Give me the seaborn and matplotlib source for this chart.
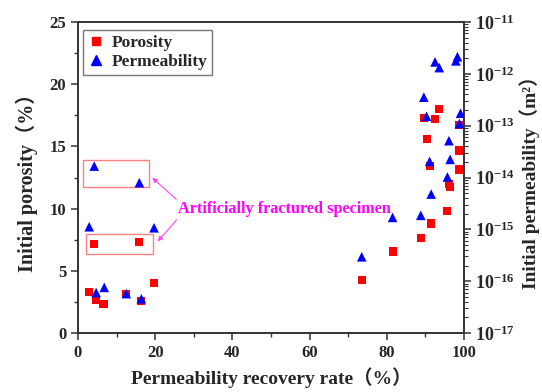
import numpy as np
import pandas as pd
import matplotlib
matplotlib.use("Agg")
import matplotlib.pyplot as plt
import matplotlib.ticker as mticker
from matplotlib.lines import Line2D
from matplotlib.patches import Rectangle
import seaborn as sns

# ---- data ----
por_x = [2.9, 4.6, 6.6, 4.2, 15.9, 12.5, 16.4, 19.6, 73.5, 81.5, 88.8, 91.5, 95.7,
         96.1, 96.4, 98.6, 98.8, 98.8, 91.1, 90.3, 89.6, 92.5, 93.6]
por_y = [3.27, 2.68, 2.36, 7.14, 7.30, 3.17, 2.58, 4.02, 4.29, 6.55, 7.62, 8.80, 9.84,
         11.96, 11.72, 13.14, 14.67, 16.70, 13.41, 15.56, 17.25, 17.19, 18.00]

perm_x = [2.9, 4.2, 4.7, 6.8, 12.5, 15.9, 16.4, 19.7, 73.5, 81.5, 88.8, 89.6, 90.3,
          91.1, 91.5, 92.5, 93.6, 95.7, 96.1, 96.4, 97.9, 98.3, 98.8, 99.1]
perm_log = [-14.95, -13.78, -16.22, -16.12, -16.24, -14.10, -16.34, -14.97, -15.53,
            -14.77, -14.73, -12.45, -12.82, -13.69, -14.32, -11.77, -11.88, -13.99,
            -13.29, -13.65, -11.75, -11.67, -12.96, -12.76]
perm_y = [10.0 ** v for v in perm_log]

df_por = pd.DataFrame({"x": por_x, "y": por_y})
df_perm = pd.DataFrame({"x": perm_x, "y": perm_y})

sns.set_style("ticks")
plt.rcParams["font.family"] = ["Liberation Serif", "Noto Sans CJK SC"]
plt.rcParams["font.weight"] = "bold"
plt.rcParams["mathtext.fontset"] = "custom"
plt.rcParams["mathtext.rm"] = "Liberation Serif:bold"
plt.rcParams["mathtext.bf"] = "Liberation Serif:bold"
plt.rcParams["mathtext.it"] = "Liberation Serif:bold:italic"
plt.rcParams["axes.linewidth"] = 1.2

fig = plt.figure(figsize=(5.42, 3.92), dpi=100)
ax = fig.add_axes([78 / 542, 1 - 333 / 392, (464 - 78) / 542, (333 - 22) / 392])
ax2 = ax.twinx()

sns.scatterplot(data=df_por, x="x", y="y", ax=ax, marker="s", color="#FF0000",
                s=34, edgecolor="none", linewidth=0, zorder=3)
sns.scatterplot(data=df_perm, x="x", y="y", ax=ax2, marker="^", color="#0000FF",
                s=48, edgecolor="none", linewidth=0, zorder=4)

ax.set_xlim(0, 100)
ax.set_ylim(0, 25)
ax2.set_yscale("log")
ax2.set_ylim(1e-17, 1e-11)

ax.set_xticks([0, 20, 40, 60, 80, 100])
ax.xaxis.set_minor_locator(mticker.MultipleLocator(10))
ax.set_yticks([0, 5, 10, 15, 20, 25])
ax.yaxis.set_minor_locator(mticker.MultipleLocator(2.5))
ax2.yaxis.set_major_locator(mticker.LogLocator(base=10, numticks=10))
ax2.yaxis.set_minor_locator(mticker.LogLocator(base=10, subs=np.arange(2, 10), numticks=20))
ax2.yaxis.set_minor_formatter(mticker.NullFormatter())
ax2.yaxis.set_major_formatter(mticker.FuncFormatter(
    lambda v, p: r"$\mathbf{10^{%d}}$" % int(round(np.log10(v)))))

ax.tick_params(axis="both", which="major", direction="out", length=5, width=1.1,
               labelsize=12, color="#333333")
ax.tick_params(axis="both", which="minor", direction="out", length=3, width=1.0,
               color="#333333")
ax2.tick_params(axis="y", which="major", direction="out", length=5, width=1.1,
                labelsize=13, color="#333333", pad=3)
ax2.tick_params(axis="y", which="minor", direction="out", length=3, width=0.8,
                color="#333333")
for a in (ax, ax2):
    for sp in a.spines.values():
        sp.set_color("#333333")
        sp.set_linewidth(1.2)
for lab in ax.get_xticklabels() + ax.get_yticklabels():
    lab.set_fontweight("bold")

ax.set_xlabel("Permeability recovery rate（%）", fontsize=14, fontweight="bold", labelpad=5)
ax.set_ylabel("Initial porosity（%）", fontsize=14.5, fontweight="bold", labelpad=8)
ax2.set_ylabel("Initial permeability（m²）", fontsize=14, fontweight="bold", labelpad=3)

# annotation boxes
box_col = "#FF8080"
ax.add_patch(Rectangle((1.25, 11.72), 17.25, 2.15, fill=False, edgecolor=box_col,
                       linewidth=1.0, zorder=2))
ax.add_patch(Rectangle((2.1, 6.38), 17.45, 1.61, fill=False, edgecolor=box_col,
                       linewidth=1.0, zorder=2))
ax.text(26.0, 9.93, "Artificially fractured specimen", color="#FF00FF",
        fontsize=11.7, fontweight="bold", va="center", ha="left", zorder=5)
arrow_kw = dict(arrowstyle="-|>", color="#FF44FF", lw=0.8, mutation_scale=7)
ax.annotate("", xy=(18.7, 12.63), xytext=(26.0, 10.6), arrowprops=arrow_kw)
ax.annotate("", xy=(20.2, 7.2), xytext=(26.0, 9.25), arrowprops=arrow_kw)

handles = [Line2D([], [], marker="s", color="#FF0000", linestyle="none", markersize=5.5),
           Line2D([], [], marker="^", color="#0000FF", linestyle="none", markersize=7)]
leg = ax.legend(handles, ["Porosity", "Permeability"], loc="upper left",
                bbox_to_anchor=(0.0, 0.99), frameon=True, fancybox=False,
                edgecolor="#555555", prop={"size": 12.5, "weight": "bold"},
                handletextpad=0.4, borderpad=0.25, labelspacing=0.2, handlelength=1.0,
                borderaxespad=0.3)
leg.get_frame().set_linewidth(1.0)
leg.set_zorder(10)

fig.savefig("out.png", dpi=100)
